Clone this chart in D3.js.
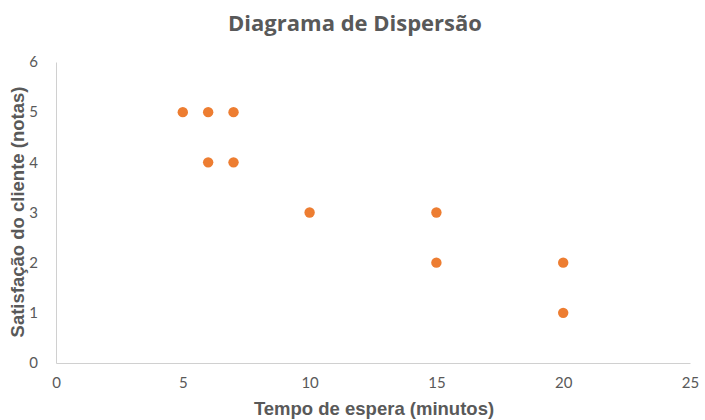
<!DOCTYPE html>
<html><head><meta charset="utf-8">
<script src="https://cdn.jsdelivr.net/npm/d3@7"></script>
<style>body{margin:0;background:#fff;}svg{display:block;}</style>
</head><body>
<svg id="chart" width="705" height="420"></svg>
<script>
const xValues = [5, 6, 7, 6, 7, 10, 15, 15, 20, 20];
const yValues = [5, 5, 5, 4, 4, 3, 3, 2, 2, 1];
const xTicks = [0, 5, 10, 15, 20, 25];
const yTicks = [0, 1, 2, 3, 4, 5, 6];
const title = "Diagrama de Dispersão";
const xTitle = "Tempo de espera (minutos)";
const yTitle = "Satisfação do cliente (notas)";

const svg = d3.select("#chart");
const m = {left: 56, right: 15, top: 62, bottom: 57};
const W = 705, H = 420;
const x = d3.scaleLinear().domain([0, 25]).range([m.left, W - m.right]);
const y = d3.scaleLinear().domain([0, 6]).range([H - m.bottom, m.top]);

const gx = svg.append("g").attr("transform", `translate(0,${y(0)})`)
  .call(d3.axisBottom(x).tickValues(xTicks).tickFormat(d3.format("d")).tickSize(0).tickPadding(14));
const gy = svg.append("g").attr("transform", `translate(${x(0)},0)`)
  .call(d3.axisLeft(y).tickValues(yTicks).tickFormat(d3.format("d")).tickSize(0).tickPadding(18));
[gx, gy].forEach(g => {
  g.select(".domain").attr("stroke", "#d0d0d0").attr("stroke-width", 1);
  g.selectAll("text").attr("fill", "#595959").style("font-family", "Lato, 'Open Sans', sans-serif").style("font-size", "15px");
});

svg.append("g").selectAll("circle").data(xValues.map((d, i) => [d, yValues[i]])).join("circle")
  .attr("cx", d => x(d[0])).attr("cy", d => y(d[1])).attr("r", 5.2).attr("fill", "#ED7D31");

svg.append("text").attr("x", 355).attr("y", 31).attr("text-anchor", "middle")
  .attr("fill", "#595959").style("font-family", "'Open Sans', sans-serif").style("font-weight", "700").style("font-size", "22px")
  .text(title);
svg.append("text").attr("x", 374).attr("y", 415).attr("text-anchor", "middle")
  .attr("fill", "#595959").style("font-family", "'Liberation Sans', Arial, sans-serif").style("font-weight", "700").style("font-size", "18.5px")
  .text(xTitle);
svg.append("text").attr("transform", "translate(24,212) rotate(-90)").attr("text-anchor", "middle")
  .attr("fill", "#595959").style("font-family", "'Liberation Sans', Arial, sans-serif").style("font-weight", "700").style("font-size", "18.5px")
  .text(yTitle);
</script>
</body></html>
